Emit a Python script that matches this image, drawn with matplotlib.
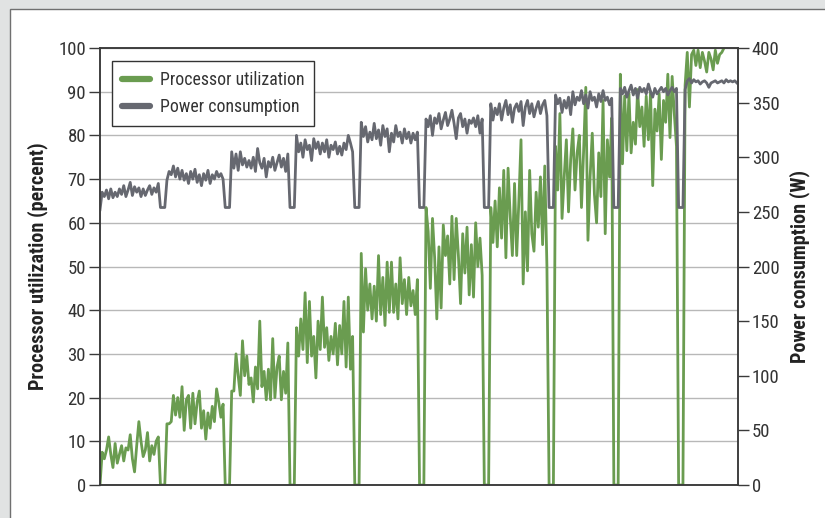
import matplotlib
matplotlib.use('Agg')
import matplotlib.pyplot as plt
from matplotlib import font_manager
from matplotlib.lines import Line2D
from matplotlib.patches import Rectangle
import numpy as np

# narrow sans face, like the original print layout
available = {f.name for f in font_manager.fontManager.ttflist}
narrow = next((n for n in ['Roboto Condensed', 'Liberation Sans Narrow', 'Archivo Narrow',
                           'PT Sans Narrow', 'Sofia Sans Condensed'] if n in available), 'DejaVu Sans')
plt.rcParams['font.family'] = [narrow, 'DejaVu Sans']

# processor utilization (percent), one row per load step, idle gaps at 0
utilization = [
    0,
    7.5, 6, 8, 11, 7, 4, 9.5, 5, 7, 9, 5.5, 8.5, 8, 11.5, 6, 3, 9, 14.5, 10, 6.5, 8, 12, 5.5, 9, 7, 10, 11,
    0, 0, 0,
    14, 14, 14.5, 20.5, 16, 20, 15.5, 22.5, 12.5, 19.5, 20.5, 13, 21, 14, 19, 21.5, 13, 17, 10.5, 16.5, 13, 18, 14.5, 22, 19, 15.5, 18.5,
    0, 0, 0,
    21.5, 21.5, 30, 25, 20.5, 33, 25, 29.5, 23, 24.5, 19, 27, 22, 37.5, 22.5, 26, 19.5, 26.5, 19.5, 33.5, 20, 27, 29.5, 19.5, 26, 21, 32.5,
    0, 0, 0,
    36, 29.5, 38, 31, 44, 28, 42, 29.5, 34, 24.5, 37.5, 31, 43, 31.5, 36, 28.5, 34, 30, 37, 27.5, 36.5, 30, 42, 27, 43, 26.5, 34,
    0, 0, 0,
    53, 35, 49.5, 40, 46, 38, 45.5, 37.5, 52.5, 39, 47.5, 36.5, 51, 39.5, 51, 39.5, 46, 38, 52, 41.5, 47, 39, 47.5, 41, 44.5, 39, 47,
    0, 0, 0,
    63.5, 58, 45, 61, 52, 38, 54.5, 40.5, 59.5, 52.5, 57, 46, 61.5, 47, 61, 52.5, 41.5, 57.5, 48.5, 59, 43.5, 55, 43, 60, 50, 56.5, 48,
    0, 0, 0,
    63.5, 55.5, 65, 54.5, 68, 56.5, 72, 52, 72.5, 61.5, 52.5, 69, 52.5, 65, 79, 46, 62.5, 49, 72, 57.5, 53.5, 67, 59, 70.5, 55, 73, 50,
    0, 0, 0,
    77.5, 67.5, 85, 61, 70.5, 79, 62.5, 74.5, 81.5, 67.5, 76, 80, 63.5, 76.5, 91, 56, 70.5, 80.5, 66.5, 60, 76, 66, 88, 57.5, 79, 70.5, 84,
    0, 0, 0,
    94, 73.5, 89, 76.5, 89.5, 76, 83, 78, 90.5, 82, 86.5, 77.5, 89, 79, 90, 68.5, 86, 81, 89.5, 74.5, 88, 83, 94, 79.5, 93.5, 85, 77.5,
    0, 0, 0,
    91.5, 99, 86.5, 98.5, 99.5, 96, 99.5, 95.5, 99, 97, 94.5, 99, 97.5, 95, 99.5, 96.5, 98.5, 99, 100,
]

# power consumption (W), same sampling
power = [
    252,
    268, 264, 270, 262, 271, 263, 268, 264, 271, 266, 274, 264, 270, 277, 265, 273, 268, 272, 264, 271, 265, 270, 274, 266, 272, 268, 276,
    254, 254, 254,
    279, 287, 284, 292, 282, 290, 280, 288, 279, 285, 276, 287, 280, 289, 277, 284, 274, 285, 279, 288, 276, 284, 280, 287, 282, 285, 280,
    254, 254, 254,
    305, 290, 303, 288, 305, 293, 299, 291, 297, 290, 300, 287, 308, 295, 290, 299, 282, 296, 291, 300, 288, 295, 302, 291, 299, 287, 303,
    254, 254, 254,
    320, 305, 313, 300, 316, 307, 311, 297, 317, 308, 314, 303, 313, 305, 316, 300, 311, 307, 314, 303, 310, 302, 313, 307, 320, 313, 305,
    254, 254, 254,
    332, 319, 328, 314, 323, 316, 331, 317, 325, 311, 329, 319, 326, 305, 322, 314, 329, 319, 323, 313, 326, 317, 323, 313, 322, 316, 323,
    254, 254, 254,
    335, 328, 338, 320, 336, 331, 340, 326, 334, 341, 329, 335, 343, 331, 317, 336, 340, 328, 335, 322, 334, 331, 336, 328, 338, 322, 335,
    254, 254, 254,
    349, 334, 345, 339, 349, 334, 345, 352, 339, 348, 332, 345, 349, 342, 351, 329, 346, 352, 340, 349, 337, 345, 351, 340, 348, 352, 338,
    254, 254, 254,
    357, 349, 354, 341, 352, 345, 355, 339, 360, 348, 355, 352, 361, 349, 357, 345, 360, 352, 355, 346, 358, 351, 361, 352, 355, 348, 354,
    254, 254, 254,
    363, 358, 364, 355, 361, 366, 357, 363, 354, 364, 360, 363, 358, 367, 360, 355, 363, 358, 361, 364, 360, 363, 357, 361, 364, 360, 363,
    254, 254, 254,
    362, 370, 372, 368, 371, 369, 370, 367, 369, 370, 368, 364, 368, 369, 370, 368, 369, 370, 368, 371, 369, 370, 369, 370, 368,
]

green = '#6a9c50'
grey = '#666870'
dark = '#3a3a3a'

fig = plt.figure(figsize=(8.25, 5.18), dpi=100, facecolor='#e1e3e3')
# white panel behind the chart
fig.patches.append(Rectangle((10 / 825, -0.1), 1.2, 1.1 - 9 / 518, transform=fig.transFigure,
                             facecolor='white', edgecolor='#707070', lw=1, zorder=-1))

ax = fig.add_axes([100 / 825, 33 / 518, 638 / 825, 437 / 518])
ax.patch.set_visible(False)
ax2 = ax.twinx()   # power on the right, drawn over the utilization line

ax.plot(np.arange(len(utilization)), utilization, color=green, lw=2.0)
ax2.plot(np.arange(len(power)), power, color=grey, lw=2.0)

ax.set_xlim(0, 295.5)
ax.set_ylim(0, 100)
ax2.set_ylim(0, 400)
ax.set_xticks([])
ax.set_yticks(range(0, 101, 10))
ax2.set_yticks(range(0, 401, 50))
ax.yaxis.grid(True, color='#b8b8b8', lw=1)
ax.set_axisbelow(True)

for a in (ax, ax2):
    for s in a.spines.values():
        s.set_color(dark)
        s.set_linewidth(1.1)
    a.tick_params(axis='y', direction='out', length=8, width=1,
                  color=dark, pad=2, labelsize=13.5, labelcolor='#333333')

ax.set_ylabel('Processor utilization (percent)', fontsize=14.5, fontweight='bold',
              color='#222222', va='center')
ax.yaxis.set_label_coords(-0.097, 0.5)
ax2.set_ylabel('Power consumption (W)', fontsize=14.5, fontweight='bold',
               color='#222222', va='center')
ax2.yaxis.set_label_coords(1.097, 0.5)

handles = [Line2D([], [], color=green, lw=4.5, solid_capstyle='round'),
           Line2D([], [], color=grey, lw=4.5, solid_capstyle='round')]
leg = ax2.legend(handles, ['Processor utilization', 'Power consumption'],
                 loc='upper left', bbox_to_anchor=(0.0188, 0.970), borderaxespad=0,
                 fancybox=False, edgecolor='#333333', framealpha=1, fontsize=12.8,
                 handlelength=1.6, handletextpad=0.55, labelspacing=0.5, borderpad=0.55)
leg.get_frame().set_linewidth(1)
for t in leg.get_texts():
    t.set_color('#333333')

fig.savefig('out.png', dpi=100, facecolor=fig.get_facecolor())
